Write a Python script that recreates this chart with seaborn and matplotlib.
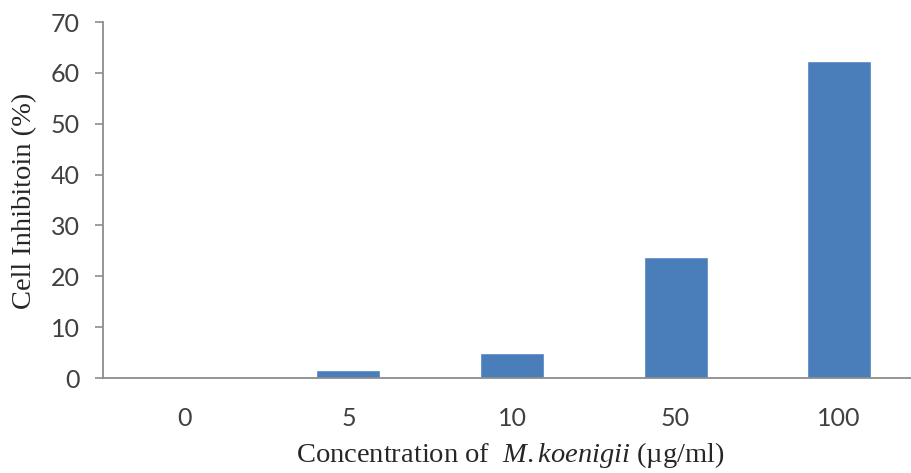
import matplotlib
matplotlib.use("Agg")
import matplotlib.pyplot as plt
import seaborn as sns
import pandas as pd

categories = ["0", "5", "10", "50", "100"]
inhibition = [0.0, 1.5, 4.9, 23.7, 62.4]
yticks = [0, 10, 20, 30, 40, 50, 60, 70]

sns.set_theme(style="white")
plt.rcParams["mathtext.fontset"] = "custom"
plt.rcParams["mathtext.rm"] = "Liberation Serif"
plt.rcParams["mathtext.it"] = "Liberation Serif:italic"

df = pd.DataFrame({"conc": categories, "val": inhibition})

fig = plt.figure(figsize=(9.11, 4.73), dpi=100)
ax = fig.add_axes([103/911, 1 - 378/473, (921 - 103)/911, (378 - 22)/473])

sns.barplot(data=df, x="conc", y="val", order=categories, color="#4A7EBB",
            saturation=1, width=0.39, ax=ax)

ax.set_xlim(-0.5, 4.5)
ax.set_ylim(0, 70)
ax.set_yticks(yticks)
ax.set_yticklabels([str(t) for t in yticks])

for s in ["top", "right"]:
    ax.spines[s].set_visible(False)
for s in ["left", "bottom"]:
    ax.spines[s].set_color("#8C8C8C")
    ax.spines[s].set_linewidth(1.3)

ax.tick_params(axis="y", which="both", left=True, length=5.8, width=1.2,
               color="#8C8C8C", labelsize=18, labelcolor="#404040", pad=11)
ax.tick_params(axis="x", bottom=False, labelsize=18, labelcolor="#404040", pad=15)
for lab in ax.get_xticklabels() + ax.get_yticklabels():
    lab.set_fontfamily("Lato")

ax.set_ylabel("Cell Inhibitoin (%)", fontfamily="Liberation Serif", fontsize=20.5,
              color="#262626")
ax.yaxis.set_label_coords(-(103 - 37) / (921 - 103), (378 - 201) / (378 - 22))
ax.set_xlabel("Concentration of  $\\it{M{.}koenigii}$ (\u00b5g/ml)",
              fontfamily="Liberation Serif", fontsize=20.5, color="#262626")
ax.xaxis.set_label_coords((510 - 103) / (921 - 103), -(440 - 378) / (378 - 22))

fig.savefig("out.png", dpi=100)
